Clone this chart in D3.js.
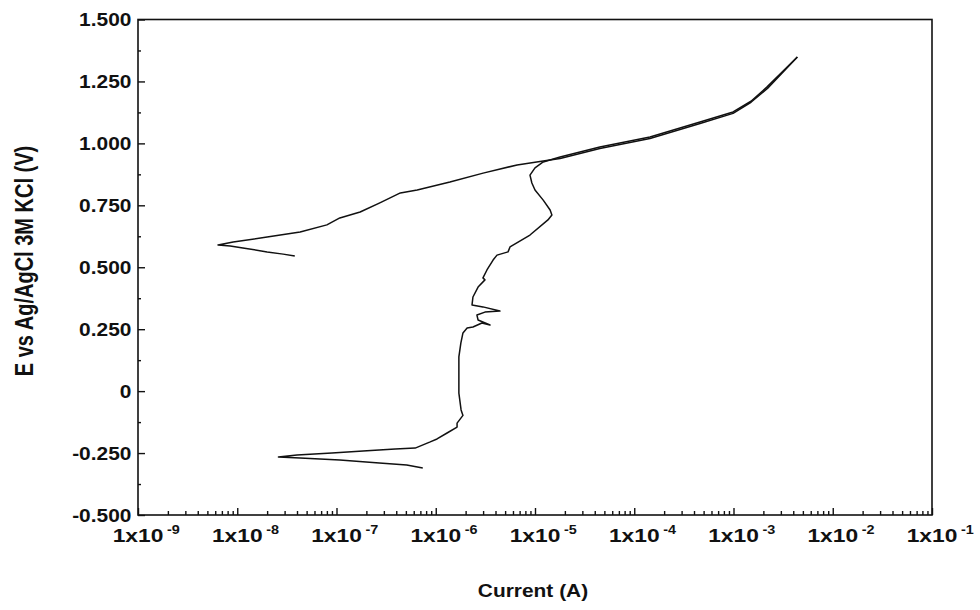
<!DOCTYPE html>
<html>
<head>
<meta charset="utf-8">
<script src="https://cdn.jsdelivr.net/npm/d3@7"></script>
<style>
  body { margin: 0; background: #fff; }
  text { font-family: "Liberation Sans", Arial, sans-serif; fill: #111; }
</style>
</head>
<body>
<svg id="chart" width="980" height="610"></svg>
<script>
// Decade exponents for the log current axis, and potential ticks (V)
const xDecades = [-9, -8, -7, -6, -5, -4, -3, -2, -1];
const yTicks = [-0.5, -0.25, 0, 0.25, 0.5, 0.75, 1.0, 1.25, 1.5];

// Forward (anodic) scan: [current A, potential V]
const forwardScan = [
  [7.4e-7, -0.310], [5.1e-7, -0.298], [2.7e-7, -0.290], [1.08e-7, -0.278],
  [4.3e-8, -0.270], [2.6e-8, -0.266], [4.0e-8, -0.258], [9.0e-8, -0.250],
  [1.85e-7, -0.242], [3.9e-7, -0.234], [6.2e-7, -0.230], [8.8e-7, -0.205],
  [1.03e-6, -0.193], [1.30e-6, -0.169], [1.64e-6, -0.145], [1.64e-6, -0.129],
  [1.88e-6, -0.098], [1.80e-6, -0.076], [1.71e-6, -0.008], [1.71e-6, 0.138],
  [1.79e-6, 0.194], [1.88e-6, 0.235], [2.07e-6, 0.255], [2.37e-6, 0.259],
  [2.92e-6, 0.275], [3.52e-6, 0.267], [2.67e-6, 0.287], [2.60e-6, 0.307],
  [3.13e-6, 0.319], [4.43e-6, 0.323], [2.99e-6, 0.340], [2.32e-6, 0.348],
  [2.37e-6, 0.380], [2.67e-6, 0.420], [3.13e-6, 0.449], [2.99e-6, 0.457],
  [3.28e-6, 0.489], [3.78e-6, 0.529], [4.14e-6, 0.549], [5.35e-6, 0.562],
  [5.60e-6, 0.582], [8.9e-6, 0.630], [1.35e-5, 0.691], [1.48e-5, 0.711],
  [1.42e-5, 0.731], [1.21e-5, 0.771], [1.00e-5, 0.812], [9.3e-6, 0.840],
  [8.9e-6, 0.872], [1.00e-5, 0.901], [1.21e-5, 0.925], [1.79e-5, 0.945],
  [4.5e-5, 0.985], [1.44e-4, 1.026], [4.6e-4, 1.086], [9.9e-4, 1.127],
  [1.5e-3, 1.170], [2.18e-3, 1.228], [4.4e-3, 1.349]
];

// Reverse scan back from the vertex potential: [current A, potential V]
const reverseScan = [
  [4.4e-3, 1.349], [2.2e-3, 1.222], [1.5e-3, 1.166], [9.9e-4, 1.121],
  [4.6e-4, 1.080], [1.44e-4, 1.020], [4.5e-5, 0.979], [1.79e-5, 0.939],
  [1.21e-5, 0.929], [6.6e-6, 0.913], [3.0e-6, 0.880], [1.39e-6, 0.844],
  [6.5e-7, 0.812], [4.4e-7, 0.800], [2.7e-7, 0.759], [1.73e-7, 0.723],
  [1.08e-7, 0.699], [8.0e-8, 0.671], [4.3e-8, 0.642], [2.0e-8, 0.622],
  [9.1e-9, 0.602], [6.4e-9, 0.590], [8.5e-9, 0.586], [1.14e-8, 0.578],
  [2.0e-8, 0.562], [2.9e-8, 0.553], [3.8e-8, 0.545]
];

const xTitle = "Current (A)";
const yTitle = "E vs Ag/AgCl 3M KCl (V)";

const svg = d3.select("#chart");
const plot = { left: 138, right: 932, top: 19.5, bottom: 515 };

const x = d3.scaleLog().domain([1e-9, 1e-1]).range([plot.left, plot.right]);
const y = d3.scaleLinear().domain([-0.5, 1.5]).range([plot.bottom, plot.top]);

// Minor ticks
const xMajor = xDecades.map(d => Math.pow(10, d));
const xMinor = [];
xDecades.slice(0, -1).forEach(d => {
  for (let k = 2; k <= 9; k++) xMinor.push(k * Math.pow(10, d));
});
const yMinor = d3.range(-0.375, 1.5, 0.25);

const fmtY = v => v === 0 ? "0" : d3.format(".3f")(v).replace("\u2212", "-");

// Bottom axis: inward ticks, labels drawn separately
const gx = svg.append("g").attr("transform", `translate(0,${plot.bottom})`);
gx.append("g").call(d3.axisBottom(x).tickValues(xMinor).tickSize(-4).tickFormat(""));
gx.append("g").call(d3.axisBottom(x).tickValues(xMajor).tickSize(-7).tickFormat(""));
gx.selectAll(".domain").remove();
gx.selectAll("line").attr("stroke", "#111").attr("stroke-width", 1.4);

// Left axis
const gy = svg.append("g").attr("transform", `translate(${plot.left},0)`);
gy.append("g").call(d3.axisLeft(y).tickValues(yMinor).tickSize(-3).tickFormat(""));
const gyMaj = gy.append("g").call(d3.axisLeft(y).tickValues(yTicks).tickSize(-7).tickPadding(6).tickFormat(fmtY));
gy.selectAll(".domain").remove();
gy.selectAll("line").attr("stroke", "#111").attr("stroke-width", 1.4);
gyMaj.selectAll("text")
  .attr("font-size", 19).attr("font-weight", "bold")
  .attr("font-family", "'Liberation Sans', Arial, sans-serif")
  .attr("fill", "#111")
  .attr("transform", "scale(1.1,1)");

// Frame
svg.append("rect")
  .attr("x", plot.left).attr("y", plot.top)
  .attr("width", plot.right - plot.left).attr("height", plot.bottom - plot.top)
  .attr("fill", "none").attr("stroke", "#111").attr("stroke-width", 1.6);

// X tick labels "1x10" with superscript exponent
xDecades.forEach(d => {
  const g = svg.append("g")
    .attr("transform", `translate(${x(Math.pow(10, d))},542) scale(1.2,1)`);
  const base = g.append("text")
    .attr("text-anchor", "middle")
    .attr("font-size", 19).attr("font-weight", "bold")
    .text("1x10");
  const w = base.node().getComputedTextLength();
  g.append("text")
    .attr("x", w / 2 + 3).attr("y", -8)
    .attr("font-size", 12).attr("font-weight", "bold")
    .text("-" + Math.abs(d));
});

// Polarisation curve
const line = d3.line().x(d => x(d[0])).y(d => y(d[1]));
[forwardScan, reverseScan].forEach(data => {
  svg.append("path")
    .datum(data)
    .attr("d", line)
    .attr("fill", "none")
    .attr("stroke", "#111")
    .attr("stroke-width", 1.5)
    .attr("stroke-linejoin", "round");
});

// Axis titles
svg.append("text")
  .attr("transform", "translate(533,597) scale(1.1,1)")
  .attr("text-anchor", "middle")
  .attr("font-size", 19).attr("font-weight", "bold")
  .text(xTitle);

svg.append("text")
  .attr("transform", "translate(33,261) scale(1.3,1) rotate(-90)")
  .attr("text-anchor", "middle")
  .attr("font-size", 20).attr("font-weight", "bold")
  .text(yTitle);
</script>
</body>
</html>
